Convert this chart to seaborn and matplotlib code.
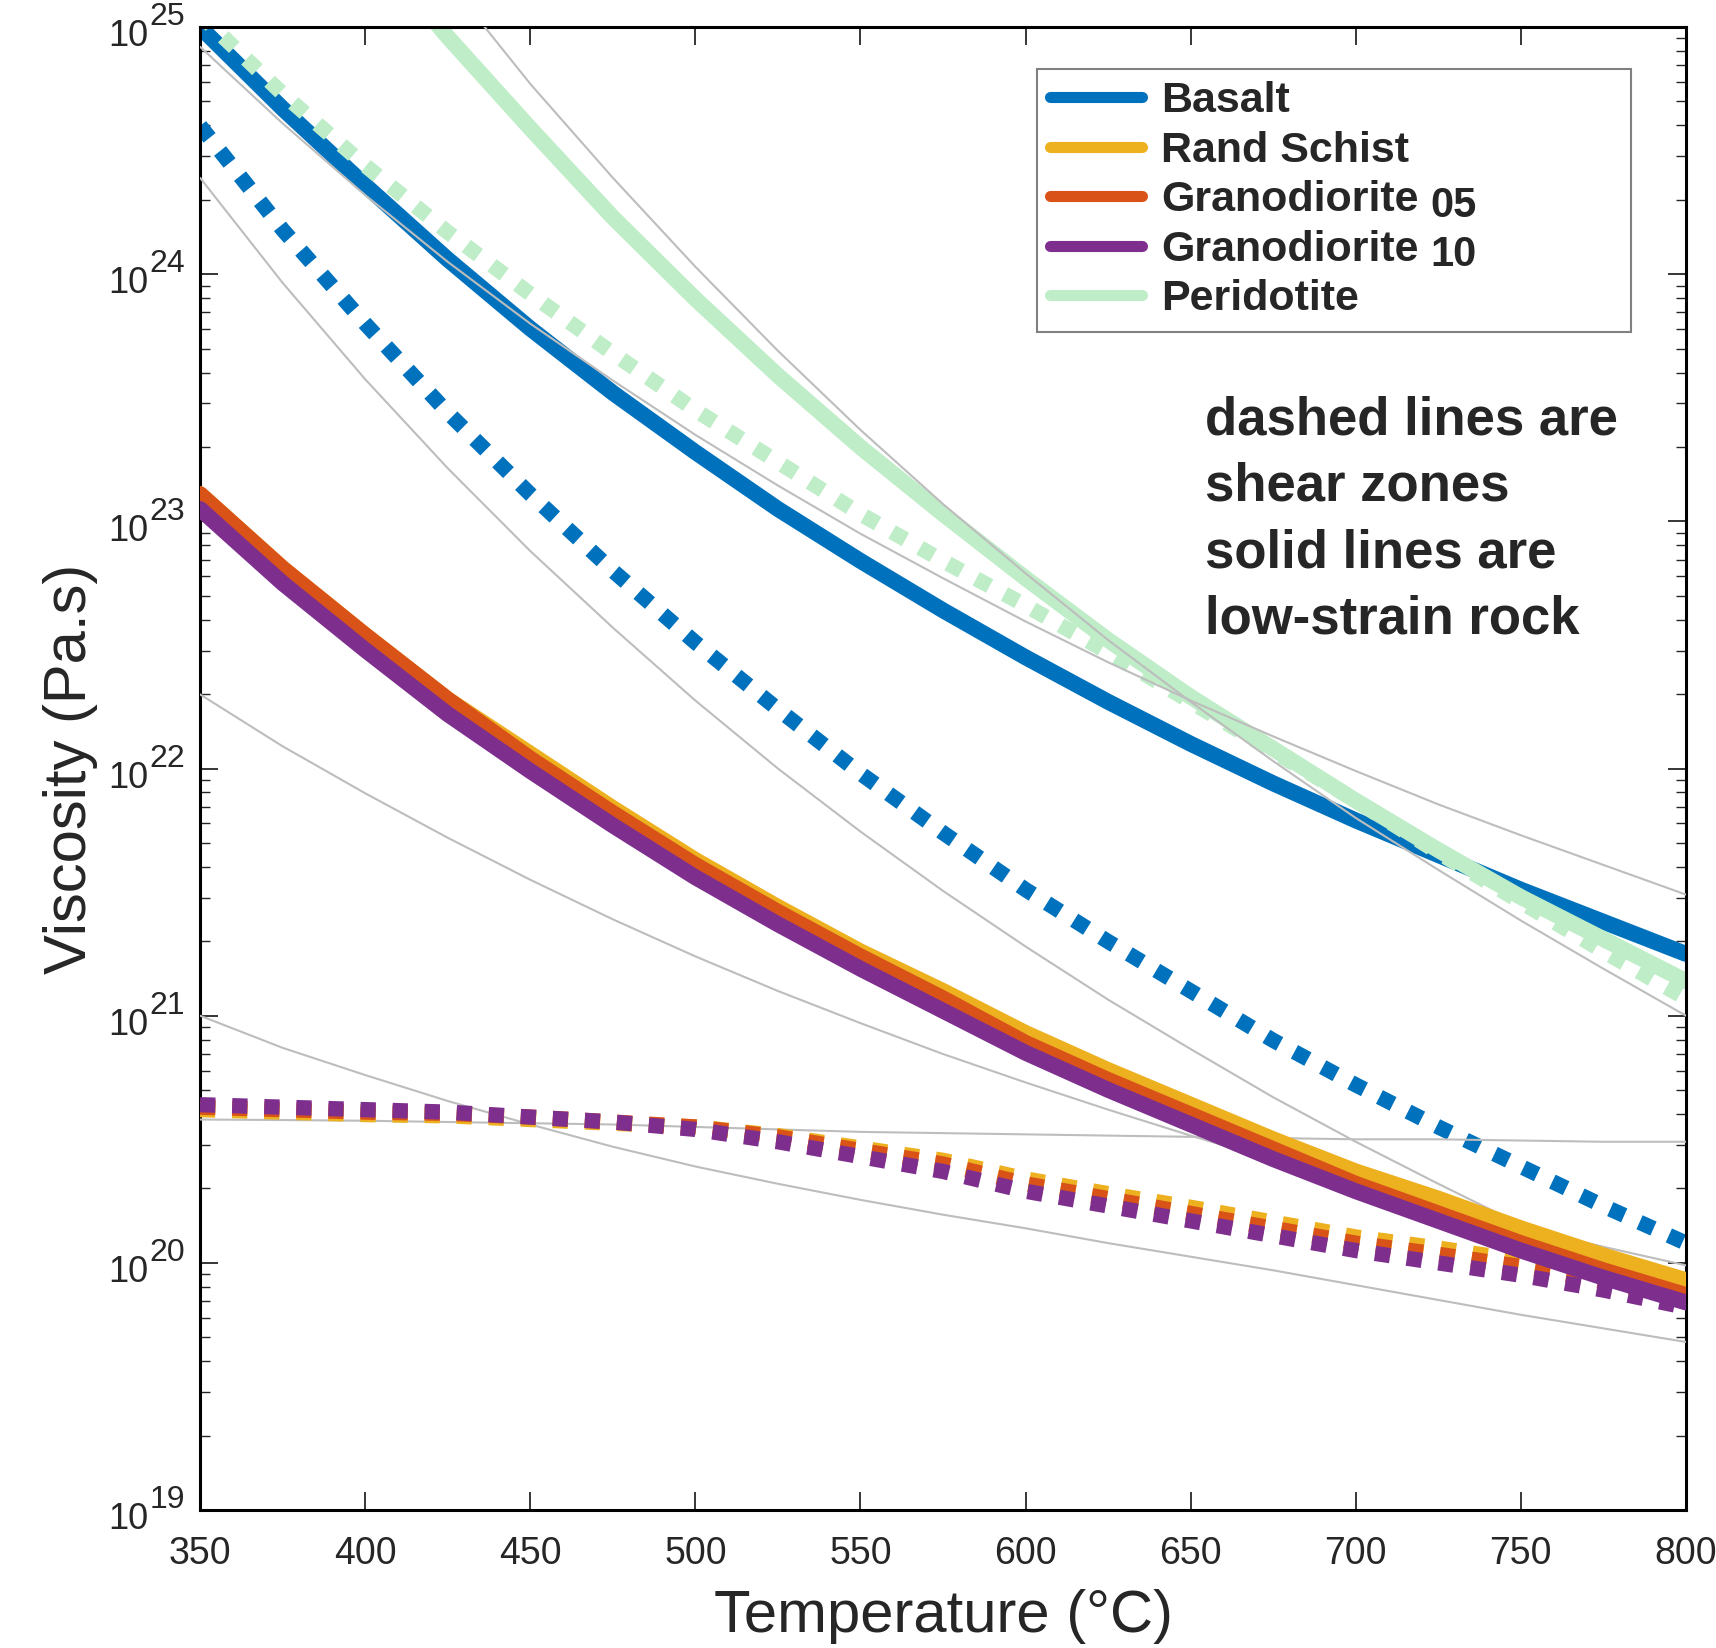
import numpy as np
import pandas as pd
import matplotlib
matplotlib.use("Agg")
import matplotlib.pyplot as plt
from matplotlib.lines import Line2D
from matplotlib.ticker import LogLocator, NullLocator
import seaborn as sns

# temperatures (deg C) and log10 viscosity (Pa.s)
temp = [350, 375, 400, 425, 450, 475, 500, 525, 550, 575, 600, 625, 650, 675, 700, 725, 750, 775, 800]

basalt = [25.00, 24.67, 24.36, 24.06, 23.78, 23.52, 23.28, 23.05, 22.84, 22.64, 22.45, 22.27, 22.10, 21.94, 21.79, 21.65, 21.51, 21.38, 21.25]
basalt_sz = [24.60, 24.18, 23.80, 23.44, 23.11, 22.80, 22.51, 22.24, 21.98, 21.74, 21.51, 21.30, 21.10, 20.90, 20.72, 20.55, 20.39, 20.23, 20.08]

rand = [23.11, 22.81, 22.54, 22.28, 22.06, 21.84, 21.63, 21.44, 21.26, 21.10, 20.93, 20.78, 20.64, 20.50, 20.37, 20.26, 20.14, 20.03, 19.93]
gd05 = [23.11, 22.81, 22.54, 22.28, 22.04, 21.82, 21.61, 21.42, 21.24, 21.07, 20.89, 20.74, 20.60, 20.46, 20.32, 20.20, 20.08, 19.97, 19.87]
gd10 = [23.05, 22.75, 22.48, 22.22, 21.99, 21.77, 21.56, 21.37, 21.19, 21.02, 20.85, 20.70, 20.56, 20.42, 20.29, 20.17, 20.05, 19.94, 19.84]

rand_sz = [20.62, 20.61, 20.60, 20.595, 20.58, 20.565, 20.55, 20.515, 20.465, 20.415, 20.34, 20.28, 20.225, 20.165, 20.105, 20.06, 20.01, 19.95, 19.88]
gd05_sz = [20.63, 20.62, 20.61, 20.605, 20.59, 20.57, 20.55, 20.51, 20.455, 20.40, 20.32, 20.26, 20.20, 20.14, 20.08, 20.035, 19.985, 19.925, 19.855]
gd10_sz = [20.64, 20.63, 20.62, 20.61, 20.59, 20.57, 20.54, 20.49, 20.43, 20.37, 20.29, 20.23, 20.17, 20.11, 20.05, 20.00, 19.95, 19.89, 19.82]

perid_temp = [420, 425, 450, 475, 500, 525, 550, 575, 600, 625, 650, 675, 700, 725, 750, 775, 800]
perid = [25.04, 24.96, 24.59, 24.23, 23.90, 23.59, 23.30, 23.03, 22.77, 22.52, 22.29, 22.08, 21.87, 21.67, 21.48, 21.31, 21.14]
perid_sz = [25.05, 24.73, 24.44, 24.17, 23.92, 23.68, 23.45, 23.24, 23.03, 22.84, 22.66, 22.47, 22.27, 22.07, 21.87, 21.66, 21.46, 21.26, 21.07]

# thin grey reference curves
grey_a = [24.92, 24.61, 24.32, 24.05, 23.80, 23.57, 23.35, 23.145, 22.95, 22.77, 22.595, 22.43, 22.275, 22.13, 21.99, 21.855, 21.73, 21.61, 21.49]
grey_b_temp = [435, 450, 475, 500, 525, 550, 575, 600, 625, 650, 675, 700, 725, 750, 775, 800]
grey_b = [25.02, 24.77, 24.39, 24.03, 23.69, 23.37, 23.07, 22.79, 22.52, 22.27, 22.03, 21.80, 21.59, 21.385, 21.19, 21.00]
grey_c = [24.39, 23.965, 23.575, 23.215, 22.88, 22.57, 22.275, 22.00, 21.745, 21.505, 21.28, 21.065, 20.865, 20.67, 20.49, 20.32, 20.155, 20.00, 19.85]
grey_d = [22.30, 22.09, 21.90, 21.72, 21.55, 21.39, 21.24, 21.10, 20.97, 20.845, 20.73, 20.62, 20.515, 20.415, 20.32, 20.23, 20.145, 20.065, 19.99]
grey_e = [20.58, 20.578, 20.575, 20.57, 20.565, 20.56, 20.55, 20.54, 20.53, 20.525, 20.52, 20.515, 20.51, 20.505, 20.50, 20.50, 20.495, 20.49, 20.49]
grey_f = [21.00, 20.87, 20.76, 20.655, 20.56, 20.47, 20.39, 20.32, 20.255, 20.195, 20.14, 20.08, 20.025, 19.97, 19.91, 19.85, 19.79, 19.735, 19.68]

decades = [19, 20, 21, 22, 23, 24, 25]
legend_names = ["Basalt", "Rand Schist", "Granodiorite", "Granodiorite", "Peridotite"]
legend_suffix = ["05", "10"]
note = "dashed lines are\nshear zones\nsolid lines are\nlow-strain rock"

BLUE = "#0072BD"
YELLOW = "#EDB120"
ORANGE = "#D95319"
PURPLE = "#7E2F8E"
GREEN = "#BFEDC8"
GREY = "#BDBDBD"
DARK = "#262626"

sns.set_style("ticks")
plt.rcParams["font.family"] = ["Liberation Sans", "DejaVu Sans"]

fig = plt.figure(figsize=(17.16, 16.48), dpi=100)
ax = fig.add_axes([0.1166, 0.0837, 0.8659, 0.8999])
ax.set_yscale("log")

DOT = (0, (1, 1.1))


def draw(t, logs, color, lw, ls="-", z=2):
    df = pd.DataFrame({"Temperature": t, "Viscosity": 10.0 ** np.array(logs)})
    sns.lineplot(data=df, x="Temperature", y="Viscosity", ax=ax, color=color,
                 linewidth=lw, linestyle=ls, legend=False, zorder=z)


# basalt
draw(temp, basalt, BLUE, 11.5, z=2)
draw(temp, basalt_sz, BLUE, 11, DOT, z=2)
# peridotite
draw(temp, perid_sz, GREEN, 11, DOT, z=2.2)
draw(perid_temp, perid, GREEN, 11.5, z=2.1)
# grey curves
for t, g in [(temp, grey_a), (grey_b_temp, grey_b), (temp, grey_c),
             (temp, grey_d), (temp, grey_e), (temp, grey_f)]:
    draw(t, g, GREY, 1.5, z=3)
# rand schist / granodiorite
draw(temp, rand, YELLOW, 11.5, z=4)
draw(temp, gd05, ORANGE, 11.5, z=5)
draw(temp, gd10, PURPLE, 11.5, z=6)
draw(temp, rand_sz, YELLOW, 11, DOT, z=4)
draw(temp, gd05_sz, ORANGE, 11, DOT, z=5)
draw(temp, gd10_sz, PURPLE, 11, DOT, z=6)

ax.set_xlim(350, 800)
ax.set_ylim(1e19, 1e25)
ax.set_xticks(np.arange(350, 801, 50))
ax.xaxis.set_minor_locator(NullLocator())
ax.set_yticks([10.0 ** e for e in decades])
ax.yaxis.set_minor_locator(LogLocator(base=10, subs=np.arange(2, 10), numticks=20))

ax.tick_params(which="both", direction="in", top=True, right=True, colors=DARK)
ax.tick_params(which="major", length=13, width=1.3)
ax.tick_params(which="minor", length=7, width=1.0)
ax.tick_params(axis="x", labelsize=27, pad=19)
ax.tick_params(axis="y", labelleft=False)
for s in ax.spines.values():
    s.set_linewidth(2.2)
    s.set_color("black")

# y tick labels written as "10" with a raised exponent
for e in decades:
    ax.annotate("10", xy=(0, 10.0 ** e), xycoords=("axes fraction", "data"),
                xytext=(-37, -7), textcoords="offset points", ha="right",
                va="center", fontsize=26, color=DARK)
    ax.annotate(str(e), xy=(0, 10.0 ** e), xycoords=("axes fraction", "data"),
                xytext=(-36.5, 7), textcoords="offset points", ha="left",
                va="center", fontsize=23, color=DARK)

ax.set_xlabel("Temperature (°C)", fontsize=43, color=DARK, labelpad=12)
ax.set_ylabel("Viscosity (Pa.s)", fontsize=43, color=DARK)
ax.yaxis.set_label_coords(-0.069, 0.5)

handles = [Line2D([], [], color=c, lw=8) for c in [BLUE, YELLOW, ORANGE, PURPLE, GREEN]]
leg = ax.legend(handles, legend_names, loc="upper left",
                bbox_to_anchor=(0.563, 0.794, 0.400, 0.178), mode="expand",
                borderaxespad=0, prop={"weight": "bold", "size": 31},
                frameon=True, fancybox=False, framealpha=1, edgecolor="#808080",
                handlelength=2.15, handletextpad=0.45, labelspacing=0.22,
                borderpad=0.3)
leg.get_frame().set_linewidth(1.5)
leg.set_zorder(10)

fig.text(0.8333, 1 - 217 / 1648, legend_suffix[0], fontsize=30, fontweight="bold", va="baseline")
fig.text(0.8333, 1 - 266 / 1648, legend_suffix[1], fontsize=30, fontweight="bold", va="baseline")

fig.text(0.7022, 0.7600, note, fontsize=38, fontweight="bold", va="top",
         ha="left", linespacing=1.42)

fig.savefig("out.png", dpi=100)
